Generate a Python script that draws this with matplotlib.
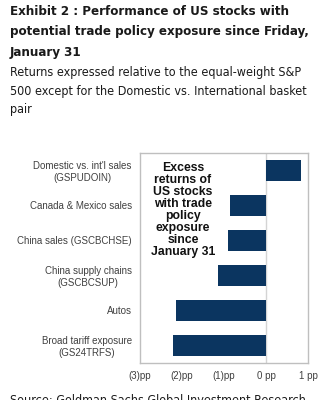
import matplotlib
matplotlib.use("Agg")
import matplotlib.pyplot as plt

# data
categories = ["Domestic vs. int'l sales\n(GSPUDOIN)",
              "Canada & Mexico sales",
              "China sales (GSCBCHSE)",
              "China supply chains\n(GSCBCSUP)",
              "Autos",
              "Broad tariff exposure\n(GS24TRFS)"]
values = [0.83, -0.86, -0.90, -1.14, -2.15, -2.21]
xticks = [-3, -2, -1, 0, 1]
xticklabels = ["(3)pp", "(2)pp", "(1)pp", "0 pp", "1 pp"]

title = "Exhibit 2 : Performance of US stocks with\npotential trade policy exposure since Friday,\nJanuary 31"
subtitle = "Returns expressed relative to the equal-weight S&P\n500 except for the Domestic vs. International basket\npair"
note = "Excess\nreturns of\nUS stocks\nwith trade\npolicy\nexposure\nsince\nJanuary 31"
source = "Source: Goldman Sachs Global Investment Research"

head_font = ['DejaVu Sans']
chart_font = ['Liberation Sans', 'DejaVu Sans']
navy = '#0b3560'

fig = plt.figure(figsize=(3.24, 4.0), dpi=100)
fig.patch.set_facecolor('white')

fig.text(10/324, 1 - 5/400, title, family=head_font, fontweight='bold',
         fontstretch='condensed', fontsize=9.5, color='#1a1a1a', va='top',
         ha='left', linespacing=1.75)
fig.text(10/324, 1 - 66/400, subtitle, family=head_font, fontstretch='condensed',
         fontsize=9.0, color='#1a1a1a', va='top', ha='left', linespacing=1.55)

ax = fig.add_axes([140/324, 37/400, 168.3/324, 210/400])
ypos = list(range(len(categories)))
ax.barh(ypos, values, height=0.62, color=navy)
ax.set_ylim(len(categories) - 0.5, -0.5)
ax.set_xlim(-3, 1)
ax.axvline(0, color='#d4d4d4', lw=1, zorder=0)

ax.set_yticks(ypos)
ax.set_yticklabels(categories, family=chart_font, fontsize=7, color='#404040',
                   multialignment='center')
ax.set_xticks(xticks)
ax.set_xticklabels(xticklabels, family=chart_font, fontsize=7, color='#404040')
ax.tick_params(axis='y', length=0, pad=6)
ax.tick_params(axis='x', length=0, pad=6)
for s in ax.spines.values():
    s.set_color('#bfbfbf')
    s.set_linewidth(1)

ax.text(-1.98, -0.25, note, transform=ax.transData, family=chart_font,
        fontweight='bold', fontsize=8.8, color='#111111', ha='center', va='top',
        linespacing=1.0)

fig.text(10/324, 6/400, source, family=head_font, fontstretch='condensed',
         fontsize=9.0, color='#1a1a1a', va='top', ha='left')

fig.savefig('out.png', dpi=100, facecolor='white')
